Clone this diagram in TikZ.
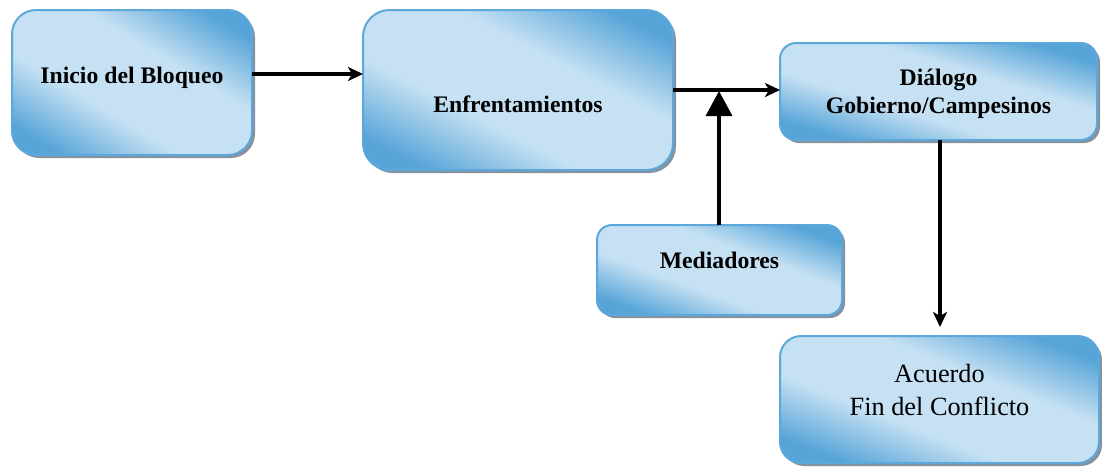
\documentclass[tikz,border=0pt]{standalone}
\usepackage{fontspec}
\setmainfont{Liberation Serif}
\usetikzlibrary{arrows.meta,shadows,calc}
\definecolor{blt}{RGB}{198,225,243}
\definecolor{bline}{RGB}{92,168,219}
\definecolor{shgray}{RGB}{134,146,158}
\pgfdeclarefunctionalshading{diagsh}{\pgfpoint{-50bp}{-50bp}}{\pgfpoint{50bp}{50bp}}{}{
  add abs 50 div 0.3 sub 0.5 div dup abs add 0.5 mul dup 1 sub abs neg add 1 add 0.5 mul
  dup -0.439 mul 0.776 add exch dup -0.239 mul 0.882 add exch -0.106 mul 0.953 add
}
\begin{document}
\begin{tikzpicture}[x=1pt,y=-1pt,
  boxst/.style 2 args={draw=bline, line width=2pt, inner sep=0pt, outer sep=0pt,
    minimum width=#1pt, minimum height=#2pt, rounded corners={#2/6*1pt},
    shading=diagsh,
    drop shadow={shadow xshift=3pt, shadow yshift=-3pt, fill=shgray, opacity=1}},
  bf/.style={font=\fontsize{23.7}{28}\selectfont\bfseries},
  rg/.style={font=\fontsize{26.3}{33}\selectfont},
  arr/.style={line width=3.5pt, -{Stealth[length=15pt,width=14pt,inset=4pt]}},
  bigarr/.style={line width=3.5pt, -{Triangle[length=25pt,width=26pt]}}]
\useasboundingbox (0,0) rectangle (1102,466);
\node[boxst={240}{145}, bf] (ini) at (132,82.5)
  {\raisebox{-0.5pt}[0pt][0pt]{Inicio del Bloqueo}};
\node[boxst={310}{160}, bf] (enf) at (518,90)
  {\raisebox{-22pt}[0pt][0pt]{Enfrentamientos}};
\node[boxst={317}{97}, bf] (dia) at (938.5,91.5)
  {\raisebox{6.5pt}[0pt][0pt]{\begin{tabular}[t]{@{}c@{}}Diálogo\\Gobierno/Campesinos\end{tabular}}};
\node[boxst={245}{90}, bf] (med) at (719.5,270)
  {\raisebox{2pt}[0pt][0pt]{Mediadores}};
\node[boxst={319}{127}, rg] (acu) at (939.5,399.5)
  {\raisebox{17.5pt}[0pt][0pt]{\begin{tabular}[t]{@{}c@{}}Acuerdo\\Fin del Conflicto\end{tabular}}};
\coordinate (jn) at (719,91);
\draw[arr] ([yshift=8.5pt]ini.east) -- ([yshift=8.5pt]ini.east -| enf.west);
\draw[arr] (enf.east) -- (enf.east -| dia.west);
\draw[bigarr] (med.north -| jn) -- (jn);
\draw[arr, shorten >=9pt] (dia.south -| 940,0) -- (acu.north -| 940,0);
\end{tikzpicture}
\end{document}
